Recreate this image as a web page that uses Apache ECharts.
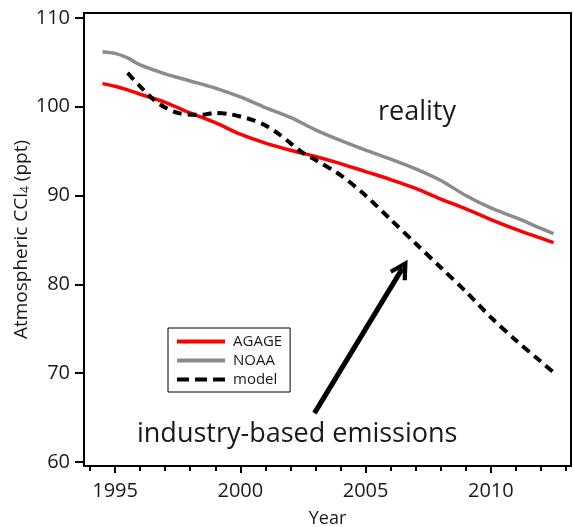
<!DOCTYPE html>
<html>
<head>
<meta charset="utf-8">
<script src="https://cdn.jsdelivr.net/npm/echarts@6/dist/echarts.min.js"></script>
<style>
  html, body { margin: 0; padding: 0; background: #fff; }
  #chart { width: 573px; height: 527px; }
</style>
</head>
<body>
<div id="chart"></div>
<script>
// Atmospheric CCl4 mole fractions (ppt) by year
const agageYears = [1994.5, 1995, 1995.5, 1996, 1997, 1998, 1999, 2000, 2001, 2002, 2003, 2004, 2005, 2006, 2007, 2008, 2009, 2010, 2011, 2012, 2012.5];
const agageValues = [102.6, 102.3, 101.9, 101.4, 100.5, 99.3, 98.2, 96.9, 95.9, 95.1, 94.4, 93.6, 92.7, 91.8, 90.8, 89.6, 88.5, 87.3, 86.2, 85.2, 84.7];

const noaaYears = [1994.5, 1995, 1995.5, 1996, 1997, 1998, 1999, 2000, 2001, 2002, 2003, 2004, 2005, 2006, 2007, 2008, 2009, 2010, 2011, 2012, 2012.5];
const noaaValues = [106.2, 106.0, 105.5, 104.7, 103.7, 102.9, 102.1, 101.1, 99.9, 98.8, 97.4, 96.2, 95.1, 94.1, 93.0, 91.7, 90.0, 88.6, 87.5, 86.3, 85.7];

// Model driven by industry-based emission estimates
const modelYears = [1995.5, 1996, 1996.5, 1997, 1997.5, 1998, 1998.5, 1999, 1999.5, 2000, 2000.5, 2001, 2001.5, 2002, 2002.5, 2003, 2004, 2005, 2006, 2007, 2008, 2009, 2010, 2011, 2012, 2012.5];
const modelValues = [103.8, 102.3, 100.9, 99.9, 99.3, 99.1, 99.1, 99.3, 99.2, 98.9, 98.5, 97.9, 97.0, 95.9, 94.8, 94.0, 92.3, 90.0, 87.3, 84.6, 81.9, 79.2, 76.3, 73.7, 71.3, 70.1];

const yTicks = [60, 70, 80, 90, 100, 110];
const xMajorTicks = [1995, 2000, 2005, 2010];
const xMinorTicks = [1994, 1995, 1996, 1997, 1998, 1999, 2000, 2001, 2002, 2003, 2004, 2005, 2006, 2007, 2008, 2009, 2010, 2011, 2012, 2013];

// Arrow pointing from the annotation up to the model curve
const arrowFrom = [2002.96, 65.5];
const arrowTo = [2006.47, 81.8];

const pair = (xs, ys) => xs.map((x, i) => [x, ys[i]]);

const FONT = '"Open Sans", "Noto Sans", sans-serif';
const TXT = '#1a1a1a';

// Legend keys: a solid bar and a row of dashes
const SOLID_ICON = 'path://M0,0 H48 V4 H0 Z';
const DASH_ICON = 'path://M0,0 H12 V4 H0 Z M18,0 H30 V4 H18 Z M36,0 H48 V4 H36 Z';

const chart = echarts.init(document.getElementById('chart'));
chart.setOption({
  animation: false,
  backgroundColor: '#fff',
  textStyle: { fontFamily: FONT },
  grid: {
    left: 84, right: 2, top: 13, bottom: 61,
    outerBoundsMode: 'none',
    containLabel: false,
    show: true, borderColor: '#000', borderWidth: 2, backgroundColor: 'transparent'
  },
  legend: {
    data: [
      { name: 'AGAGE', icon: SOLID_ICON },
      { name: 'NOAA', icon: SOLID_ICON },
      { name: 'model', icon: DASH_ICON }
    ],
    orient: 'vertical',
    left: 168, top: 328,
    itemWidth: 48, itemHeight: 4, itemGap: 4,
    padding: [6, 8, 5, 9],
    borderColor: '#000', borderWidth: 1,
    backgroundColor: '#fff',
    textStyle: { fontSize: 15, color: TXT, fontFamily: FONT, padding: [0, 0, 0, 3] }
  },
  xAxis: [
    {
      type: 'value', min: 1993.76, max: 2013.2,
      position: 'bottom',
      name: 'Year', nameLocation: 'middle', nameGap: 44, nameMoveOverlap: false,
      nameTextStyle: { fontSize: 18, color: TXT, fontFamily: FONT },
      axisLine: { show: false },
      splitLine: { show: false },
      axisTick: { show: true, customValues: xMajorTicks, length: 7, lineStyle: { color: '#000', width: 2 } },
      axisLabel: { customValues: xMajorTicks, fontSize: 20, color: TXT, margin: 15, fontFamily: FONT, formatter: v => String(v) }
    },
    {
      type: 'value', min: 1993.76, max: 2013.2,
      position: 'bottom',
      axisLine: { show: false },
      splitLine: { show: false },
      axisTick: { show: true, customValues: xMinorTicks, length: 5, lineStyle: { color: '#000', width: 2 } },
      axisLabel: { show: false }
    }
  ],
  yAxis: {
    type: 'value', min: 59.55, max: 110.55,
    name: '{a|Atmospheric CCl}{s|4}{a| (ppt)}',
    nameLocation: 'middle', nameGap: 52, nameRotate: 90, nameMoveOverlap: false,
    nameTextStyle: {
      color: TXT,
      rich: {
        a: { fontSize: 19, color: TXT, fontFamily: FONT },
        s: { fontSize: 12, color: TXT, fontFamily: FONT, padding: [8, 0, 0, 0] }
      }
    },
    axisLine: { show: false },
    splitLine: { show: false },
    axisTick: { show: true, customValues: yTicks, length: 9, lineStyle: { color: '#000', width: 2 } },
    axisLabel: { customValues: yTicks, fontSize: 20, color: TXT, margin: 14, fontFamily: FONT }
  },
  graphic: [
    { type: 'text', left: 378, top: 99, style: { text: 'reality', fontSize: 27, fill: TXT, fontFamily: FONT } },
    { type: 'text', left: 137, top: 421, style: { text: 'industry-based emissions', fontSize: 27, fill: TXT, fontFamily: FONT } }
  ],
  series: [
    {
      name: 'NOAA', type: 'line', data: pair(noaaYears, noaaValues),
      showSymbol: false, symbol: 'none', smooth: 0.3,
      lineStyle: { color: '#8c8c8c', width: 3.5 }, itemStyle: { color: '#8c8c8c' }, z: 2
    },
    {
      name: 'AGAGE', type: 'line', data: pair(agageYears, agageValues),
      showSymbol: false, symbol: 'none', smooth: 0.3,
      lineStyle: { color: '#ff0000', width: 3.5 }, itemStyle: { color: '#ff0000' }, z: 3
    },
    {
      name: 'model', type: 'line', data: pair(modelYears, modelValues),
      showSymbol: false, symbol: 'none', smooth: 0.3,
      lineStyle: { color: '#000', width: 4, type: [9, 6] }, itemStyle: { color: '#000' }, z: 4,
      markLine: {
        silent: true, animation: false,
        symbol: ['none', 'path://M0,10 L5,0 L10,10 L8.2,11.2 L5,5 L1.8,11.2 Z'],
        symbolSize: [20, 20],
        label: { show: false },
        lineStyle: { color: '#000', width: 5, type: 'solid' },
        data: [[{ coord: arrowFrom }, { coord: arrowTo }]]
      }
    }
  ]
});
</script>
</body>
</html>
